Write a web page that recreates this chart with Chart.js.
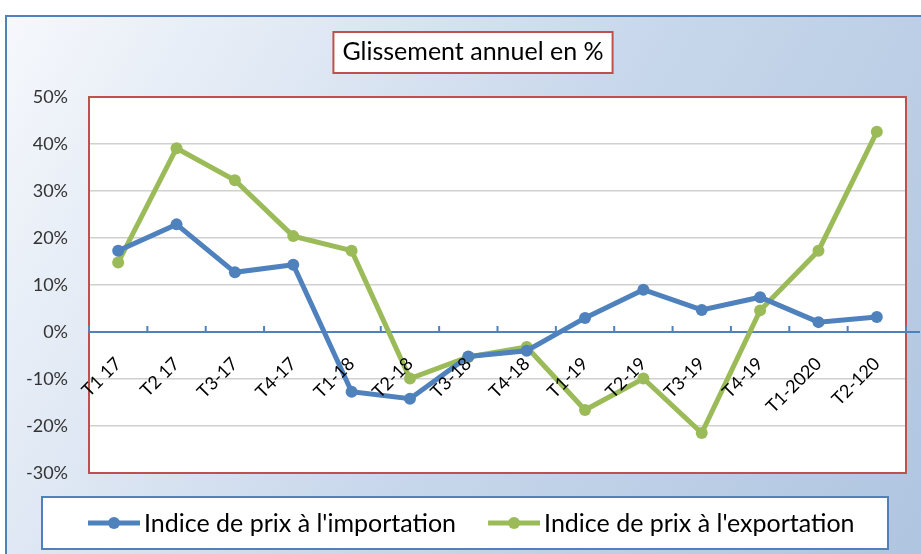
<!DOCTYPE html>
<html lang="fr">
<head>
<meta charset="utf-8">
<title>Glissement annuel en %</title>
<script src="https://cdn.jsdelivr.net/npm/chart.js@4.4.1/dist/chart.umd.min.js"></script>
<style>
  html, body { margin: 0; padding: 0; background: #fff; }
</style>
</head>
<body>
<canvas id="chart" width="921" height="554"></canvas>
<script>
// quarters and year-on-year change (%)
const quarters = ["T1 17", "T2 17", "T3-17", "T4-17", "T1-18", "T2-18", "T3-18", "T4-18",
                  "T1-19", "T2-19", "T3-19", "T4-19", "T1-2020", "T2-120"];
const importIndex = [17.3, 22.9, 12.7, 14.3, -12.7, -14.2, -5.2, -4.0, 3.0, 9.0, 4.7, 7.4, 2.1, 3.2];
const exportIndex = [14.8, 39.1, 32.3, 20.4, 17.3, -9.9, -5.3, -3.2, -16.6, -9.9, -21.5, 4.6, 17.3, 42.6];
const yTicks = [-30, -20, -10, 0, 10, 20, 30, 40, 50];

const FONT = "Lato, 'Open Sans', sans-serif";
const BLUE = "#4f81bd";
const GREEN = "#9bbb59";
const RED = "#c0504d";
const TITLE_SIZE = 25;

// background, outer frame, plot area and title box
const frame = {
  id: "frame",
  afterLayout(chart) {
    // let the y tick labels use the space left of the scale (no clipping)
    chart.scales.y.left = 0;
  },
  beforeDraw(chart) {
    const { ctx, width, height, chartArea: a } = chart;
    ctx.save();
    ctx.fillStyle = "#fff";
    ctx.fillRect(0, 0, width, height);

    const g = ctx.createLinearGradient(5, 15, width, height);
    g.addColorStop(0, "#f6f8fc");
    g.addColorStop(0.5, "#cad9ec");
    g.addColorStop(1, "#afc5e0");
    ctx.fillStyle = g;
    ctx.fillRect(5, 15, width, height);
    ctx.strokeStyle = BLUE;
    ctx.lineWidth = 2;
    ctx.strokeRect(6, 16, width, height);

    ctx.fillStyle = "#fff";
    ctx.fillRect(a.left, a.top, a.width, a.height);

    // title box
    const tb = chart.titleBlock;
    const t = chart.options.plugins.title;
    ctx.font = TITLE_SIZE + "px " + FONT;
    const tw = ctx.measureText(t.text).width;
    const cx = (tb.left + tb.right) / 2;
    const cy = tb.top + t.padding.top + TITLE_SIZE * 1.2 / 2;
    ctx.fillStyle = "#fff";
    ctx.fillRect(cx - tw / 2 - 9, cy - 20, tw + 18, 41);
    ctx.strokeStyle = RED;
    ctx.lineWidth = 2;
    ctx.strokeRect(cx - tw / 2 - 9, cy - 20, tw + 18, 41);
    ctx.restore();
  },
  beforeDatasetsDraw(chart) {
    const { ctx, chartArea: a, scales: { x, y } } = chart;
    ctx.save();
    // red plot border
    ctx.strokeStyle = RED;
    ctx.lineWidth = 2;
    ctx.strokeRect(a.left, a.top, a.width, a.height);
    // horizontal axis at 0 with tick marks between categories
    const y0 = y.getPixelForValue(0);
    ctx.strokeStyle = BLUE;
    ctx.lineWidth = 2;
    ctx.beginPath();
    ctx.moveTo(a.left, y0);
    ctx.lineTo(a.right + 14, y0);
    const half = (x.getPixelForValue(1) - x.getPixelForValue(0)) / 2;
    for (let i = 0; i <= quarters.length; i++) {
      const px = x.getPixelForValue(i) - half;
      ctx.moveTo(px, y0);
      ctx.lineTo(px, y0 - 6);
    }
    ctx.stroke();
    ctx.restore();
  },
  afterDraw(chart) {
    // legend box with line-and-marker keys
    const { ctx } = chart;
    const box = { x: 42, y: 497, w: 846, h: 52 };
    ctx.save();
    ctx.fillStyle = "#fff";
    ctx.fillRect(box.x, box.y, box.w, box.h);
    ctx.strokeStyle = BLUE;
    ctx.lineWidth = 2;
    ctx.strokeRect(box.x, box.y, box.w, box.h);

    ctx.font = "25px " + FONT;
    ctx.textBaseline = "middle";
    const cy = box.y + box.h / 2;
    let px = 88;
    chart.data.datasets.forEach((ds) => {
      ctx.strokeStyle = ds.borderColor;
      ctx.lineWidth = 5;
      ctx.beginPath();
      ctx.moveTo(px, cy);
      ctx.lineTo(px + 52, cy);
      ctx.stroke();
      ctx.fillStyle = ds.borderColor;
      ctx.beginPath();
      ctx.arc(px + 26, cy, 6, 0, Math.PI * 2);
      ctx.fill();
      ctx.fillStyle = "#000";
      ctx.fillText(ds.label, px + 56, cy + 1);
      px += 56 + ctx.measureText(ds.label).width + 32;
    });
    ctx.restore();
  },
};

new Chart(document.getElementById("chart"), {
  type: "line",
  data: {
    labels: quarters,
    datasets: [
      {
        label: "Indice de prix à l'importation",
        data: importIndex,
        borderColor: BLUE,
        backgroundColor: BLUE,
        borderWidth: 5,
        pointRadius: 6,
        pointBorderWidth: 0,
        pointBackgroundColor: BLUE,
        tension: 0,
      },
      {
        label: "Indice de prix à l'exportation",
        data: exportIndex,
        borderColor: GREEN,
        backgroundColor: GREEN,
        borderWidth: 5,
        pointRadius: 6,
        pointBorderWidth: 0,
        pointBackgroundColor: GREEN,
        tension: 0,
      },
    ],
  },
  options: {
    responsive: false,
    animation: false,
    layout: { padding: { left: 40, right: 15, top: 0, bottom: 81 } },
    plugins: {
      legend: { display: false },
      tooltip: { enabled: false },
      title: {
        display: true,
        text: "Glissement annuel en %",
        color: "#000",
        font: { family: FONT, size: TITLE_SIZE, weight: "normal", lineHeight: 1.2 },
        padding: { top: 37, bottom: 30 },
      },
    },
    scales: {
      x: {
        type: "category",
        offset: true,
        position: { y: 0 },
        grid: { display: false, drawTicks: false },
        border: { display: false },
        ticks: {
          z: 1, // labels sit on top of the lines
          color: "#000",
          font: { family: FONT, size: 18 },
          minRotation: 45,
          maxRotation: 45,
          autoSkip: false,
          padding: 21,
        },
      },
      y: {
        min: -30,
        max: 50,
        afterBuildTicks: (s) => { s.ticks = yTicks.map((v) => ({ value: v })); },
        afterFit: (s) => { s.width = 49; },
        grid: { color: "#d0d0d0", lineWidth: 1.5, drawTicks: false },
        border: { display: false },
        ticks: {
          color: "#333",
          font: { family: FONT, size: 18 },
          padding: 21,
          callback: (v) => v + "%",
        },
      },
    },
  },
  plugins: [frame],
});
</script>
</body>
</html>
